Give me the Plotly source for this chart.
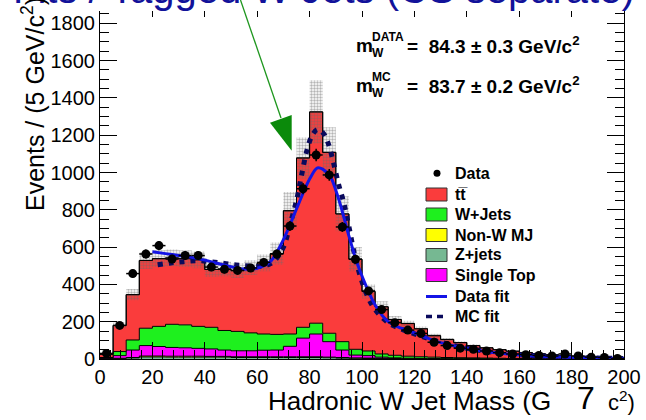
import numpy as np
import plotly.graph_objects as go

# ---------------- data ----------------
bin_edges = list(range(0, 205, 5))
ttbar = [17, 140, 243, 363, 363, 356, 355, 357, 310, 329, 326, 350, 381, 433, 661, 908, 1133, 970, 685, 483,
         319, 253, 192, 175, 150, 115, 97, 81, 66, 55, 46, 39, 32, 26, 21, 16, 13, 10, 7, 5]
wjets = [3, 22, 54, 93, 108, 124, 123, 118, 116, 105, 104, 96, 87, 84, 66, 58, 58, 45, 45, 31,
         25, 17, 14, 11, 9, 7, 6, 5, 4, 4, 3, 2, 2, 1, 2, 2, 1, 1, 1, 1]
single_top = [3, 14, 40, 56, 51, 47, 45, 42, 40, 34, 32, 32, 35, 36, 56, 100, 122, 83, 40, 15,
              13, 6, 3, 2, 1, 2, 1, 1, 1, 0, 1, 1, 1, 1, 0, 0, 0, 0, 0, 0]
zjets = [1, 3, 6, 11, 11, 10, 10, 10, 10, 10, 8, 8, 8, 8, 8, 8, 8, 7, 5, 4,
         3, 3, 2, 1, 1, 1, 1, 1, 1, 1, 0, 0, 0, 0, 0, 0, 0, 0, 0, 0]
nonw = [1, 1, 2, 5, 5, 5, 5, 5, 4, 4, 4, 4, 4, 4, 4, 4, 4, 3, 3, 2,
        2, 1, 1, 1, 1, 0, 0, 0, 0, 0, 0, 0, 0, 0, 0, 0, 0, 0, 0, 0]
mc_err = [5, 15, 30, 45, 45, 45, 45, 45, 40, 40, 40, 40, 45, 60, 100, 110, 170, 135, 95, 65,
          38, 30, 18, 15, 12, 10, 8, 7, 6, 5, 4, 4, 3, 3, 2, 2, 2, 2, 1, 1]
data = [30, 180, 458, 563, 608, 536, 555, 555, 493, 481, 475, 488, 518, 563, 713, 913, 1094, 987, 708, 535,
        365, 265, 195, 155, 137, 90, 72, 58, 52, 43, 34, 27, 23, 19, 16, 27, 16, 10, 8, 3]

data_fit_x = [20, 25, 30, 35, 40, 45, 50, 55, 60, 65, 70, 75, 80, 83, 85, 88, 90, 92, 95, 98,
              100, 105, 110, 115, 120, 125, 130, 140, 150, 160, 170, 180, 190, 200]
data_fit_y = [575, 565, 555, 545, 530, 512, 495, 482, 487, 522, 640, 805, 965, 1025, 1018, 975, 905, 815, 660, 520,
              445, 290, 200, 165, 140, 112, 88, 57, 35, 22, 14, 9, 5, 3]
mc_fit_x = [22, 27, 32, 37, 42, 47, 52, 57, 62, 66, 70, 72.5, 75, 77, 79, 81, 83, 85, 87, 89,
            91, 93, 95, 97, 99, 102, 105, 110, 115, 120, 130, 140, 150, 160, 170, 180, 190, 200]
mc_fit_y = [505, 515, 522, 527, 522, 513, 504, 499, 497, 520, 600, 720, 850, 990, 1120, 1200, 1230, 1215, 1160, 1060,
            940, 840, 710, 570, 460, 340, 265, 195, 160, 135, 90, 58, 36, 23, 15, 9, 5, 3]

x_ticks = list(range(0, 220, 20))
y_ticks = list(range(0, 2000, 200))

# ---------------- helpers ----------------
W, H = 646, 420
L, R, T, B = 100, 624, 0, 359
FONT = "Liberation Sans, Arial, Helvetica, sans-serif"


def pxx(p):
    return (p - L) / (R - L)


def pyy(p):
    return (B - p) / (B - T)


edges = np.array(bin_edges, dtype=float)
centers = edges[:-1] + 2.5


def step_y(vals):
    v = list(np.asarray(vals, dtype=float))
    return v + [v[-1]]


fig = go.Figure()

# stacked components (bottom -> top)
components = [
    ("Z+jets", zjets, "#76b892"),
    ("Non-W MJ", nonw, "#ffff00"),
    ("Single Top", single_top, "#ff00ff"),
    ("W+Jets", wjets, "#1ef01e"),
    ("tt\u0305", ttbar, "#fa3c3c"),
]
cum = np.zeros(len(centers))
fig.add_trace(go.Scatter(x=edges, y=step_y(cum), mode="lines", line=dict(width=0, shape="hv"),
                         showlegend=False, hoverinfo="skip"))
for name, vals, col in components:
    cum = cum + np.asarray(vals, dtype=float)
    fig.add_trace(go.Scatter(x=edges, y=step_y(cum), mode="lines", name=name,
                             line=dict(color="black", width=1, shape="hv"),
                             fill="tonexty", fillcolor=col, showlegend=False))
mc_total = cum.copy()
err = np.asarray(mc_err, dtype=float)

# uncertainty band (stipple)
fig.add_trace(go.Scatter(x=edges, y=step_y(mc_total - err), mode="lines",
                         line=dict(width=0, shape="hv"), showlegend=False, hoverinfo="skip"))
fig.add_trace(go.Scatter(x=edges, y=step_y(mc_total + err), mode="lines",
                         line=dict(width=0, shape="hv"), fill="tonexty",
                         fillcolor="rgba(0,0,0,0)",
                         fillpattern=dict(shape=".", fgcolor="#6a6a6a", bgcolor="rgba(0,0,0,0)",
                                          size=3, solidity=0.5),
                         showlegend=False, hoverinfo="skip"))
# total outline on top of band
fig.add_trace(go.Scatter(x=edges, y=step_y(mc_total), mode="lines",
                         line=dict(color="black", width=1, shape="hv"), showlegend=False))

# fits
fig.add_trace(go.Scatter(x=mc_fit_x, y=mc_fit_y, mode="lines", name="MC fit",
                         line=dict(color="#0a0a5c", width=5, dash="5px,6px", shape="spline"),
                         showlegend=False))
fig.add_trace(go.Scatter(x=data_fit_x, y=data_fit_y, mode="lines", name="Data fit",
                         line=dict(color="#1414e6", width=3, shape="spline"), showlegend=False))

# data points
fig.add_trace(go.Scatter(x=centers, y=data, mode="markers", name="Data",
                         marker=dict(color="black", size=9),
                         error_y=dict(type="sqrt", width=0, thickness=1.5, color="black"),
                         error_x=dict(type="constant", value=2.5, width=0, thickness=1.5, color="black"),
                         showlegend=False))

axis_common = dict(showgrid=False, zeroline=False, showline=True, linecolor="black", linewidth=1,
                   mirror="ticks", ticks="inside", ticklen=17, tickwidth=1, tickcolor="black",
                   tickfont=dict(family=FONT, size=20, color="black"))
fig.update_layout(
    width=W, height=H, autosize=False,
    margin=dict(l=L, r=W - R, t=T, b=H - B),
    paper_bgcolor="white", plot_bgcolor="white",
    xaxis=dict(range=[0, 200], tickmode="array", tickvals=x_ticks, ticktext=[str(v) for v in x_ticks],
               minor=dict(dtick=4, ticklen=9, ticks="inside", tickcolor="black"), **axis_common),
    yaxis=dict(range=[0, 1925], tickmode="array", tickvals=y_ticks, ticktext=[str(v) for v in y_ticks],
               minor=dict(dtick=50, ticklen=9, ticks="inside", tickcolor="black"), **axis_common),
    showlegend=False,
)

shapes = []
annotations = []

# white strip at the very top (slide title area)
shapes.append(dict(type="rect", xref="paper", yref="paper", x0=pxx(-5), x1=pxx(650), y0=pyy(11), y1=pyy(-5),
                   fillcolor="white", line=dict(width=0), layer="above"))

# green arrow
shapes.append(dict(type="line", xref="paper", yref="paper", x0=pxx(240.5), y0=pyy(0), x1=pxx(281), y1=pyy(118),
                   line=dict(color="#1e961e", width=1.3), layer="above"))
shapes.append(dict(type="path", xref="paper", yref="paper",
                   path=f"M {pxx(270)} {pyy(122.7)} L {pxx(291.7)} {pyy(115)} L {pxx(291.7)} {pyy(150.7)} Z",
                   fillcolor="#0b8a0b", line=dict(width=0), layer="above"))

# legend (manual, ROOT-like)
leg_x0, leg_x1 = 426, 447
leg_tx = 453
leg_items = [
    ("tt\u0305", "#fa3c3c", 194.5),
    ("W+Jets", "#1ef01e", 214.5),
    ("Non-W MJ", "#ffff00", 235),
    ("Z+jets", "#76b892", 255),
    ("Single Top", "#ff00ff", 275),
]
lfont = dict(family=FONT, size=16, color="black")
shapes.append(dict(type="circle", xref="paper", yref="paper", x0=pxx(433.5), x1=pxx(440.5),
                   y0=pyy(176.8), y1=pyy(169.8), fillcolor="black", line=dict(width=0), layer="above"))
annotations.append(dict(text="<b>Data</b>", x=pxx(leg_tx), y=pyy(173.5), xref="paper", yref="paper",
                        xanchor="left", yanchor="middle", showarrow=False, font=lfont))
for name, col, yc in leg_items:
    shapes.append(dict(type="rect", xref="paper", yref="paper", x0=pxx(leg_x0), x1=pxx(leg_x1),
                       y0=pyy(yc + 6.5), y1=pyy(yc - 6.5), fillcolor=col,
                       line=dict(color="#333333", width=1), layer="above"))
    annotations.append(dict(text=f"<b>{name}</b>", x=pxx(leg_tx), y=pyy(yc), xref="paper", yref="paper",
                            xanchor="left", yanchor="middle", showarrow=False, font=lfont))
shapes.append(dict(type="line", xref="paper", yref="paper", x0=pxx(leg_x0), x1=pxx(leg_x1),
                   y0=pyy(296.5), y1=pyy(296.5), line=dict(color="#1414e6", width=3), layer="above"))
annotations.append(dict(text="<b>Data fit</b>", x=pxx(leg_tx), y=pyy(296.5), xref="paper", yref="paper",
                        xanchor="left", yanchor="middle", showarrow=False, font=lfont))
shapes.append(dict(type="line", xref="paper", yref="paper", x0=pxx(leg_x0), x1=pxx(leg_x1),
                   y0=pyy(316.5), y1=pyy(316.5), line=dict(color="#0a0a5c", width=3.5, dash="6px,5px"),
                   layer="above"))
annotations.append(dict(text="<b>MC fit</b>", x=pxx(leg_tx), y=pyy(316.5), xref="paper", yref="paper",
                        xanchor="left", yanchor="middle", showarrow=False, font=lfont))

# mass results
mfont = dict(family=FONT, size=19, color="black")
sfont = dict(family=FONT, size=12, color="black")
for yc, sup, val in [(45.5, "DATA", "=  84.3 \u00b1 0.3 GeV/c<sup>2</sup>"),
                     (85.5, "MC", "=  83.7 \u00b1 0.2 GeV/c<sup>2</sup>")]:
    annotations.append(dict(text="<b>m</b>", x=pxx(354), y=pyy(yc), xref="paper", yref="paper",
                            xanchor="left", yanchor="middle", showarrow=False, font=mfont))
    annotations.append(dict(text=f"<b>{sup}</b>", x=pxx(370), y=pyy(yc - 9), xref="paper", yref="paper",
                            xanchor="left", yanchor="middle", showarrow=False, font=sfont))
    annotations.append(dict(text="<b>W</b>", x=pxx(370), y=pyy(yc + 7), xref="paper", yref="paper",
                            xanchor="left", yanchor="middle", showarrow=False, font=sfont))
    annotations.append(dict(text=f"<b>{val}</b>", x=pxx(405), y=pyy(yc), xref="paper", yref="paper",
                            xanchor="left", yanchor="middle", showarrow=False, font=mfont))

# slide title (cropped at top)
annotations.append(dict(text="Fits / Tagged W Jets (CS separate)", x=pxx(637), y=pyy(-11), xref="paper",
                        yref="paper", xanchor="right", yanchor="middle", showarrow=False,
                        font=dict(family=FONT, size=40, color="#12129a")))

# axis titles
tfont = dict(family=FONT, size=25, color="black")
annotations.append(dict(text="Events / (5 GeV/c<sup>2</sup>)", textangle=-90, x=pxx(33), y=pyy(213),
                        xref="paper", yref="paper", xanchor="center", yanchor="bottom", showarrow=False,
                        font=tfont))
annotations.append(dict(text="Hadronic W Jet Mass (G", x=pxx(266), y=pyy(401), xref="paper", yref="paper",
                        xanchor="left", yanchor="middle", showarrow=False,
                        font=dict(family=FONT, size=26, color="black")))
annotations.append(dict(text="7", x=pxx(586), y=pyy(398), xref="paper", yref="paper",
                        xanchor="center", yanchor="middle", showarrow=False,
                        font=dict(family=FONT, size=32, color="black")))
annotations.append(dict(text="c<sup>2</sup>)", x=pxx(606), y=pyy(401), xref="paper", yref="paper",
                        xanchor="left", yanchor="middle", showarrow=False,
                        font=dict(family=FONT, size=22, color="black")))

fig.update_layout(shapes=shapes, annotations=annotations)
fig.write_html("out.html")
